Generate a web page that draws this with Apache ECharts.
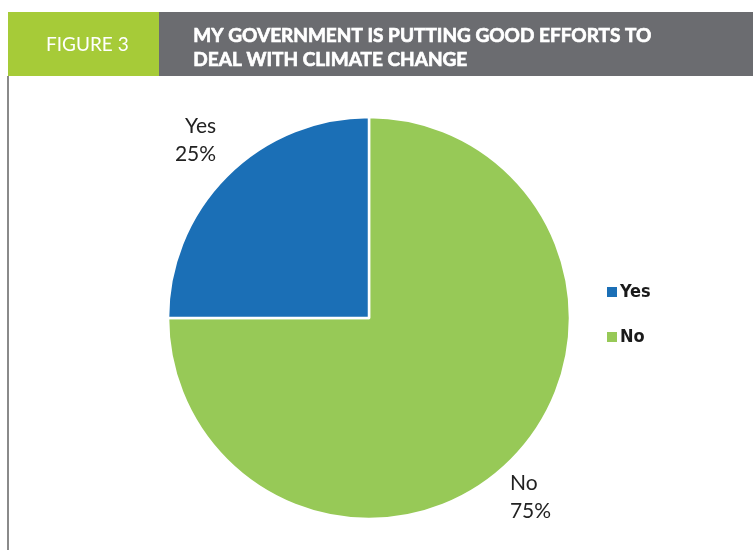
<!DOCTYPE html>
<html>
<head>
<meta charset="utf-8">
<script src="https://cdn.jsdelivr.net/npm/echarts@6/dist/echarts.min.js"></script>
<style>
  html, body { margin: 0; padding: 0; background: #fff; }
  #chart { width: 753px; height: 550px; }
</style>
</head>
<body>
<div id="chart"></div>
<script>
// Survey answers: share of respondents (%)
const categories = ['No', 'Yes'];
const values = [75, 25];
const legendOrder = ['Yes', 'No'];
const sliceColors = { Yes: '#1b6fb6', No: '#97c957' };

const figureLabel = 'FIGURE 3';
const titleLines = ['MY GOVERNMENT IS PUTTING GOOD EFFORTS TO', 'DEAL WITH CLIMATE CHANGE'];

// nudges for the outside slice labels
const labelNudge = { Yes: [14, -16], No: [-26, 17] };

const chart = echarts.init(document.getElementById('chart'), null, { renderer: 'canvas' });

chart.setOption({
  backgroundColor: '#ffffff',
  animation: false,
  graphic: [
    // header band
    { type: 'rect', shape: { x: 8, y: 12, width: 151, height: 64 }, style: { fill: '#a6cb38' } },
    { type: 'rect', shape: { x: 159, y: 12, width: 600, height: 64 }, style: { fill: '#6b6c70' } },
    { type: 'text', left: 46, top: 35,
      style: { text: figureLabel, fill: '#ffffff', font: '19px Lato, "Open Sans", sans-serif' } },
    { type: 'text', left: 193, top: 24,
      style: { text: titleLines.join('\n'), fill: '#ffffff', lineHeight: 24,
               stroke: '#ffffff', lineWidth: 0.7,
               font: 'bold 19px Lato, "Open Sans", sans-serif' } },
    // left frame rule
    { type: 'rect', shape: { x: 7, y: 76, width: 2, height: 480 }, style: { fill: '#8a8a8a' } }
  ],
  legend: {
    data: legendOrder,
    orient: 'vertical',
    left: 600,
    top: 278,
    itemWidth: 12,
    itemHeight: 12,
    itemGap: 27,
    icon: 'rect',
    textStyle: {
      fontFamily: '"DejaVu Sans Condensed", "Liberation Sans Narrow", sans-serif',
      fontWeight: 'bold',
      fontSize: 18,
      color: '#1a1a1a',
      padding: [0, 0, 0, -3]
    }
  },
  series: [{
    type: 'pie',
    center: [369, 318],
    radius: [0, 201],
    startAngle: 90,
    clockwise: true,
    data: categories.map((c, i) => ({ name: c, value: values[i], itemStyle: { color: sliceColors[c] } })),
    itemStyle: { borderColor: '#ffffff', borderWidth: 2.5 },
    label: {
      show: true,
      position: 'outside',
      formatter: p => p.name + '\n' + p.value + '%',
      fontFamily: 'Lato, "Open Sans", sans-serif',
      fontSize: 21,
      lineHeight: 28,
      color: '#222222',
      align: 'center'
    },
    labelLine: { show: false, length: 28, length2: 0 },
    labelLayout: p => {
      const n = labelNudge[p.text.split('\n')[0]] || [0, 0];
      return { dx: n[0], dy: n[1] };
    },
    emphasis: { disabled: true }
  }]
});
</script>
</body>
</html>
